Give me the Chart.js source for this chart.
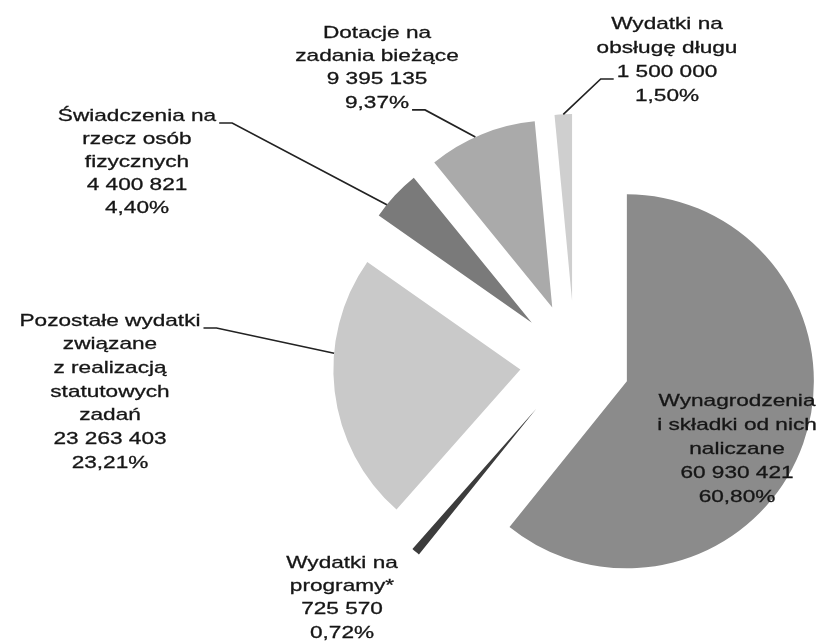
<!DOCTYPE html>
<html>
<head>
<meta charset="utf-8">
<script src="https://cdn.jsdelivr.net/npm/chart.js@4.4.1/dist/chart.umd.min.js"></script>
<style>
  html, body { margin: 0; background: #fff; }
  #wrap { width: 833px; height: 641px; }
</style>
</head>
<body>
<div id="wrap"><canvas id="myChart"></canvas></div>
<script>
// data
var categories = [
  'Wynagrodzenia i składki od nich naliczane',
  'Wydatki na programy*',
  'Pozostałe wydatki związane z realizacją statutowych zadań',
  'Świadczenia na rzecz osób fizycznych',
  'Dotacje na zadania bieżące',
  'Wydatki na obsługę długu'
];
var amounts = [60930421, 725570, 23263403, 4400821, 9395135, 1500000];
var percents = ['60,80%', '0,72%', '23,21%', '4,40%', '9,37%', '1,50%'];
var labelLines = [
  ['Wynagrodzenia', 'i składki od nich', 'naliczane'],
  ['Wydatki na', 'programy*'],
  ['Pozostałe wydatki', 'związane', 'z realizacją', 'statutowych', 'zadań'],
  ['Świadczenia na', 'rzecz osób', 'fizycznych'],
  ['Dotacje na', 'zadania bieżące'],
  ['Wydatki na', 'obsługę długu']
];

// styles / layout
var colors = ['#8b8b8b', '#3c3c3c', '#c9c9c9', '#7a7a7a', '#aaaaaa', '#cfcfcf'];
var explode = [55, 60, 55, 59, 60, 62];
var labelPos = [
  { dx: 162, dy: 38, lh: 24 },
  { dx: -233, dy: 200, lh: 23.3 },
  { dx: -465, dy: -42, lh: 23.7 },
  { dx: -438, dy: -247, lh: 23.2 },
  { dx: -198, dy: -330, lh: 23.3 },
  { dx: 92, dy: -339, lh: 24 }
];
var leaders = [
  null,
  null,
  { line: 0, side: 'right', frac: 0.64 },
  { line: 0, side: 'right', frac: 0.26 },
  { line: 3, side: 'right', frac: 0.44 },
  { line: 2, side: 'left', frac: 0.5 }
];
var stretch = 1.33;

function fmt(n) {
  return String(n).replace(/\B(?=(\d{3})+(?!\d))/g, ' ');
}

// pie whose slices are pulled out along their mid angle
class ExplodedPieController extends Chart.PieController {
  draw() {
    var ctx = this.chart.ctx;
    var dist = this.getDataset().explode || [];
    this._cachedMeta.data.forEach(function (arc, i) {
      var mid = (arc.startAngle + arc.endAngle) / 2;
      var d = dist[i] || 0;
      ctx.save();
      ctx.translate(Math.cos(mid) * d, Math.sin(mid) * d);
      arc.draw(ctx);
      ctx.restore();
    });
  }
}
ExplodedPieController.id = 'explodedPie';
ExplodedPieController.defaults = Chart.PieController.defaults;
Chart.register(ExplodedPieController);

var labelPlugin = {
  id: 'pieLabels',
  afterDatasetsDraw: function (chart) {
    var ctx = chart.ctx;
    var arcs = chart.getDatasetMeta(0).data;
    var cx = arcs[0].x, cy = arcs[0].y;
    ctx.save();
    ctx.font = '17px "Liberation Sans", Arial, sans-serif';
    ctx.fillStyle = '#161616';
    ctx.strokeStyle = '#161616';
    ctx.lineWidth = 0.3;
    ctx.textAlign = 'center';
    ctx.textBaseline = 'middle';
    labelLines.forEach(function (lines, i) {
      var all = lines.concat([fmt(amounts[i]), percents[i]]);
      var p = labelPos[i];
      var x = cx + p.dx, y0 = cy + p.dy;
      all.forEach(function (t, k) {
        ctx.save();
        ctx.translate(x, y0 + k * p.lh);
        ctx.scale(stretch, 1);
        ctx.fillText(t, 0, 0);
        ctx.strokeText(t, 0, 0);
        ctx.restore();
      });
      var ld = leaders[i];
      if (!ld) return;
      var a = arcs[i];
      var mid = (a.startAngle + a.endAngle) / 2;
      var ang = a.startAngle + ld.frac * (a.endAngle - a.startAngle);
      var ex = a.x + Math.cos(mid) * explode[i] + Math.cos(ang) * a.outerRadius;
      var ey = a.y + Math.sin(mid) * explode[i] + Math.sin(ang) * a.outerRadius;
      var w = ctx.measureText(all[ld.line]).width * stretch;
      var ly = y0 + ld.line * p.lh + 7;
      var sx = ld.side === 'right' ? x + w / 2 + 3 : x - w / 2 - 3;
      var kx = ld.side === 'right' ? sx + 13 : sx - 13;
      ctx.save();
      ctx.beginPath();
      ctx.strokeStyle = '#222';
      ctx.lineWidth = 1.7;
      ctx.moveTo(sx, ly);
      ctx.lineTo(kx, ly);
      ctx.lineTo(ex, ey);
      ctx.stroke();
      ctx.restore();
    });
    ctx.restore();
  }
};

var ctx = document.getElementById('myChart').getContext('2d');
var myChart = new Chart(ctx, {
  type: 'explodedPie',
  data: {
    labels: categories,
    datasets: [{
      data: amounts,
      backgroundColor: colors,
      borderWidth: 0,
      explode: explode
    }]
  },
  options: {
    responsive: true,
    maintainAspectRatio: false,
    animation: false,
    radius: 187,
    layout: { padding: { left: 330, right: 13, top: 92, bottom: 7 } },
    plugins: { legend: { display: false }, tooltip: { enabled: false } }
  },
  plugins: [labelPlugin]
});
</script>
</body>
</html>
